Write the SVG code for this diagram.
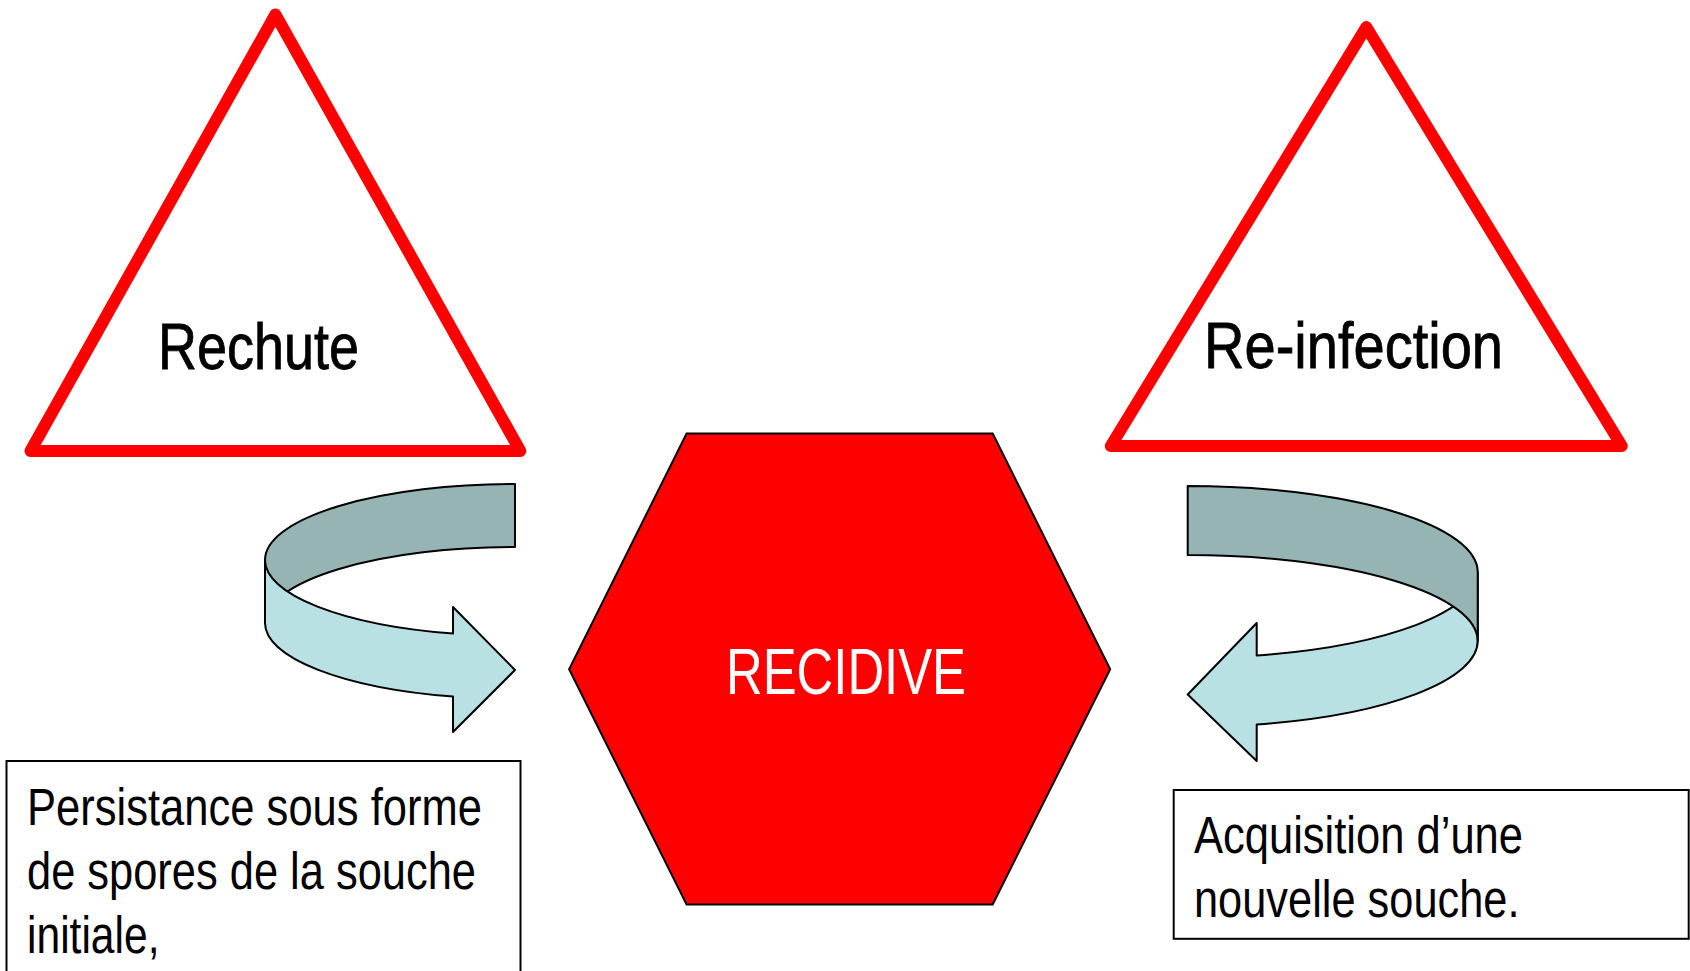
<svg xmlns="http://www.w3.org/2000/svg" width="1690" height="971" viewBox="0 0 1690 971">
<style>
.tri{fill:#fff;stroke:#ff0000;stroke-width:12;stroke-linejoin:round}
.hex{fill:#ff0000;stroke:#000;stroke-width:2}
.box{fill:#fff;stroke:#000;stroke-width:2}
.back{fill:#96b4b4;stroke:#000;stroke-width:2;stroke-linejoin:round}
.front{fill:#b9e0e3;stroke:#000;stroke-width:2;stroke-linejoin:round}
text{font-family:"Liberation Sans Narrow","Liberation Sans",Arial,sans-serif}
.title{font-size:65px;fill:#000;stroke:#000;stroke-width:0.8}
.center{font-size:64px;fill:#fff}
.body{font-size:51px;fill:#000}
</style>
<rect width="1690" height="971" fill="#fff"/>
<g id="rechute">
<polygon class="tri" points="275.4,14.5 30.5,451 520.3,451"/>
<text class="title" x="158" y="368.5" textLength="201" lengthAdjust="spacingAndGlyphs">Rechute</text>
</g>
<g id="reinfection">
<polygon class="tri" points="1366.3,27 1110.8,446 1621.8,446"/>
<text class="title" x="1204" y="367.5" textLength="299" lengthAdjust="spacingAndGlyphs">Re-infection</text>
</g>
<g id="recidive">
<polygon class="hex" points="686.6,433.5 992.7,433.5 1110.2,669.3 992.7,904.5 686.6,904.5 569.1,669.3"/>
<text class="center" x="726" y="693.5" textLength="240" lengthAdjust="spacingAndGlyphs">RECIDIVE</text>
</g>
<g id="connectors">
<g id="arrow-left">
<path class="back" d="M515,484 A250,76 0 0 0 265,560 L265,623 A250,76 0 0 1 515,547 Z"/>
<path class="front" d="M265,560 A250,76 0 0 0 453,633.6 L453,607 L515,670 L453,732 L453,696.6 A250,76 0 0 1 265,623 Z"/>
</g>
<g id="arrow-right">
<path class="front" d="M1477.7,572 A290,86 0 0 1 1256.7,655.5 L1256.7,623 L1187.7,694.5 L1256.7,761 L1256.7,724.5 A290,86 0 0 0 1477.7,641 Z"/>
<path class="back" d="M1187.7,486 A290,86 0 0 1 1477.7,572 L1477.7,641 A290,86 0 0 0 1187.7,555 Z"/>
</g>
</g>
<g id="box-persistance">
<rect class="box" x="6.5" y="761" width="514" height="240"/>
<text class="body" x="27" y="824.5" textLength="455" lengthAdjust="spacingAndGlyphs">Persistance sous forme</text>
<text class="body" x="27" y="889" textLength="449" lengthAdjust="spacingAndGlyphs">de spores de la souche</text>
<text class="body" x="27" y="952.5" textLength="132.5" lengthAdjust="spacingAndGlyphs">initiale,</text>
</g>
<g id="box-acquisition">
<rect class="box" x="1173.7" y="790" width="515" height="148.8"/>
<text class="body" x="1194" y="852.5" textLength="329" lengthAdjust="spacingAndGlyphs">Acquisition d’une</text>
<text class="body" x="1194" y="917" textLength="325.5" lengthAdjust="spacingAndGlyphs">nouvelle souche.</text>
</g>
</svg>
